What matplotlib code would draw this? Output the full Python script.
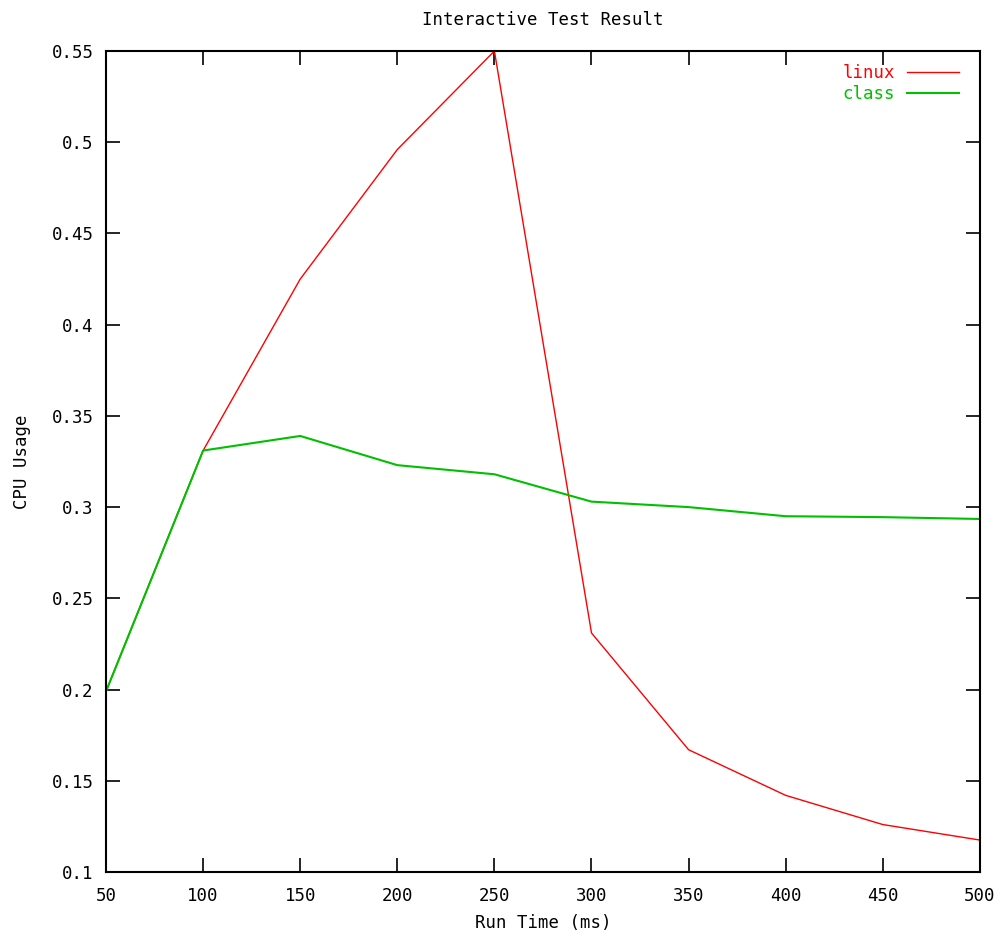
import matplotlib
matplotlib.use("Agg")
import matplotlib.pyplot as plt

# run time (ms) and CPU usage per scheduler
run_time = [50, 100, 150, 200, 250, 300, 350, 400, 450, 500]
linux = [0.199, 0.331, 0.425, 0.496, 0.550, 0.231, 0.167, 0.142, 0.126, 0.1175]
cls   = [0.199, 0.331, 0.339, 0.323, 0.318, 0.303, 0.300, 0.295, 0.2945, 0.2935]

x_ticks = [50, 100, 150, 200, 250, 300, 350, 400, 450, 500]
y_ticks = [0.1, 0.15, 0.2, 0.25, 0.3, 0.35, 0.4, 0.45, 0.5, 0.55]
y_labels = ["0.1", "0.15", "0.2", "0.25", "0.3", "0.35", "0.4", "0.45", "0.5", "0.55"]

plt.rcParams["font.family"] = ["DejaVu Sans Mono"]
plt.rcParams["font.size"] = 12.5

fig = plt.figure(figsize=(10.05, 9.36), dpi=100)
ax = fig.add_axes([0.1055, 0.0684, 0.8695, 0.8771])

ax.plot(run_time, linux, color="#ff0000", lw=1.0, label="linux")
ax.plot(run_time, cls, color="#00c000", lw=1.5, label="class")

ax.set_xlim(50, 500)
ax.set_ylim(0.1, 0.55)
ax.set_xticks(x_ticks)
ax.set_yticks(y_ticks)
ax.set_yticklabels(y_labels)
ax.tick_params(direction="in", length=10, width=1.2, top=True, right=True,
               labelsize=12.5)
ax.tick_params(axis="x", pad=11)
ax.tick_params(axis="y", pad=9)
for s in ax.spines.values():
    s.set_linewidth(1.5)

ax.set_xlabel("Run Time (ms)", fontsize=12.5, labelpad=6)
ax.set_ylabel("CPU Usage", fontsize=12.5, labelpad=15)
ax.set_title("Interactive Test Result", fontsize=12.5, pad=19)

leg = ax.legend(loc="upper right", bbox_to_anchor=(0.9943, 1.0037),
                frameon=False, markerfirst=False,
                handlelength=3.0, handletextpad=0.7, borderaxespad=0.4,
                borderpad=0.5, labelspacing=0.22, fontsize=12.5)
for t, c in zip(leg.get_texts(), ["#ff0000", "#00c000"]):
    t.set_color(c)

fig.savefig("out.png", dpi=100)
